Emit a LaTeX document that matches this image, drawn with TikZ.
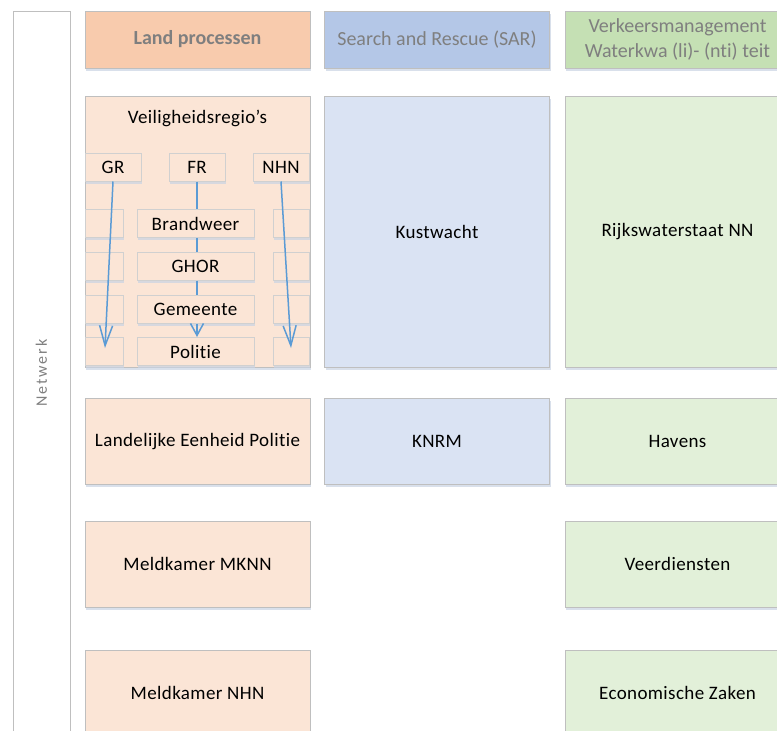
\documentclass[tikz,border=0pt]{standalone}
\usepackage{fontspec}
\setmainfont[Ligatures=CommonOff]{Carlito}
\usetikzlibrary{arrows.meta,shadows}

\definecolor{landhead}{HTML}{F8CBAD}
\definecolor{sarhead}{HTML}{B4C7E7}
\definecolor{verkhead}{HTML}{C5E0B4}
\definecolor{landfill}{HTML}{FBE5D6}
\definecolor{sarfill}{HTML}{DAE3F3}
\definecolor{verkfill}{HTML}{E2F0D9}
\definecolor{boxline}{HTML}{BFBFBF}
\definecolor{subline}{HTML}{D0D0D0}
\definecolor{headtext}{HTML}{7F7F7F}
\definecolor{flowblue}{HTML}{5B9BD5}
\definecolor{shade}{HTML}{C9D3E3}

\begin{document}
\begin{tikzpicture}[x=1pt,y=-1pt,
  font=\fontsize{19}{24}\selectfont\addfontfeature{LetterSpace=2},
  box/.style={draw=boxline, line width=1pt, inner sep=0pt, align=center,
    minimum width=225, minimum height=86,
    drop shadow={shadow xshift=1pt, shadow yshift=-2.5pt, fill=shade, opacity=.7}},
  head/.style={box, minimum height=57, text=headtext, font=\fontsize{20}{25}\selectfont},
  sub/.style={box, draw=subline, fill=landfill, minimum height=28},
  flow/.style={draw=flowblue, line width=1.5pt},
  flowarrow/.style={flow, -{Straight Barb[length=20pt,width=13pt,line width=1.5pt]}},
  shortarrow/.style={flow, -{Straight Barb[length=12pt,width=13pt,line width=1.5pt]}}]
%\draw[step=10,gray,very thin] (0,0) grid (777,731);
\useasboundingbox (0,0) rectangle (777,731);
\clip (0,0) rectangle (777,731);

% side column
\node[draw=boxline, line width=1pt, rotate=90, minimum width=724, minimum height=57,
  inner sep=0pt, text=headtext, font=\fontsize{16}{19}\selectfont\addfontfeature{LetterSpace=12}] (netwerk) at (41.5,373) {Netwerk};

% headers
\node[head, fill=landhead] (hland) at (197.5,39.5) {\textbf{Land processen}};
\node[head, fill=sarhead] (hsar) at (437,39.5) {Search and Rescue (SAR)};
\node[head, fill=verkhead] (hverk) at (677.5,39.5) {Verkeersmanagement\\Waterkwa (li)- (nti) teit};

% first row
\node[box, fill=landfill, minimum height=271] (veilig) at (197.5,231.5) {};
\node (veiligtext) at (197.5,118) {Veiligheidsregio’s};
\node[box, fill=sarfill, minimum height=271] (kust) at (437,231.5) {Kustwacht};
\node[box, fill=verkfill, minimum height=271] (rws) at (677.5,231.5) {Rijkswaterstaat NN};

% regions
\node[sub, minimum width=56] (gr) at (113,167) {GR};
\node[sub, minimum width=56] (fr) at (197,167) {FR};
\node[sub, minimum width=56] (nhn) at (281,167) {NHN};

\node[sub, minimum width=38] (gra) at (104,223.5) {};
\node[sub, minimum width=38] (grb) at (104,266) {};
\node[sub, minimum width=38] (grc) at (104,309) {};
\node[sub, minimum width=38] (grd) at (104,351.5) {};
\node[sub, minimum width=36] (nhna) at (291,223.5) {};
\node[sub, minimum width=36] (nhnb) at (291,266) {};
\node[sub, minimum width=36] (nhnc) at (291,309) {};
\node[sub, minimum width=36] (nhnd) at (291,351.5) {};

\node[sub, minimum width=117] (brand) at (195.5,223.5) {Brandweer};
\node[sub, minimum width=117] (ghor) at (195.5,266) {GHOR};
\node[sub, minimum width=117] (gem) at (195.5,309) {Gemeente};
\node[sub, minimum width=117] (pol) at (195.5,351.5) {Politie};

\coordinate (grend) at (105,348);
\coordinate (nhnend) at (291,348);

\draw[flow] (fr.south) -- (fr.south |- brand.north);
\draw[flow] (fr.south |- brand.south) -- (fr.south |- ghor.north);
\draw[flow] (fr.south |- ghor.south) -- (fr.south |- gem.north);
\draw[shortarrow] (fr.south |- gem.south) -- (fr.south |- pol.north);
\draw[flowarrow] (gr.south) -- (grend);
\draw[flowarrow] (nhn.south) -- (nhnend);

% other rows
\node[box, fill=landfill] (lep) at (197.5,441.5) {Landelijke Eenheid Politie};
\node[box, fill=sarfill] (knrm) at (437,441.5) {KNRM};
\node[box, fill=verkfill] (havens) at (677.5,441.5) {Havens};

\node[box, fill=landfill] (mknn) at (197.5,564) {Meldkamer MKNN};
\node[box, fill=verkfill] (veer) at (677.5,564) {Veerdiensten};

\node[box, fill=landfill] (mnhn) at (197.5,693) {Meldkamer NHN};
\node[box, fill=verkfill] (ez) at (677.5,693) {Economische Zaken};

\end{tikzpicture}
\end{document}
